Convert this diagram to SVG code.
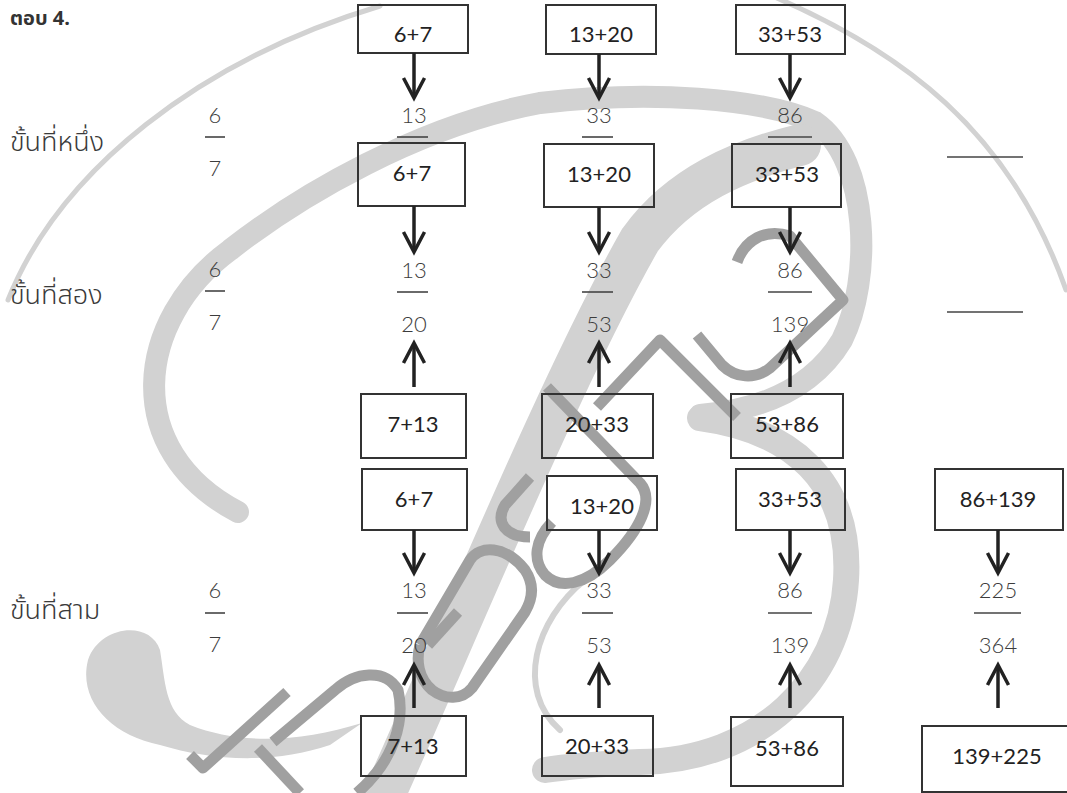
<svg xmlns="http://www.w3.org/2000/svg" width="1067" height="793" viewBox="0 0 1067 793">
<style>
.box{fill:none;stroke:#333;stroke-width:2}
.bt{font-family:Lato,"Open Sans","Liberation Sans",sans-serif;font-size:22px;fill:#222;text-anchor:middle}
.num{font-family:Lato,"Open Sans","Liberation Sans",sans-serif;font-weight:300;font-size:22px;fill:#3c3c3c;text-anchor:middle}
.bar{stroke:#444;stroke-width:1.6}
.th{font-family:"Noto Sans Thai","Noto Sans Thai UI","Noto Sans","DejaVu Sans",sans-serif;font-weight:300;font-size:27px;fill:#3a3a3a}
.arr{stroke:#222;stroke-width:3.5;fill:none;marker-end:url(#chev)}
.wl{fill:none;stroke:#d2d2d2;stroke-linecap:round}
.wd{fill:none;stroke:#a0a0a0;stroke-width:11;stroke-linejoin:round}
</style>
<defs>
<marker id="chev" markerUnits="userSpaceOnUse" viewBox="-24 -14 28 28" refX="0" refY="0" markerWidth="28" markerHeight="28" orient="auto" overflow="visible">
<path d="M-20,-10.5 L0,0 L-20,10.5" fill="none" stroke="#222" stroke-width="3.5"/>
</marker>
</defs>
<g id="watermark">
<path class="wl" stroke-width="5" d="M8 300 C60 170 200 60 380 6"/>
<path class="wl" stroke-width="5" d="M770 -5 C900 50 1010 130 1066 290"/>
<path class="wl" stroke-width="22" d="M238 512 C120 450 135 320 230 250 C300 195 420 125 540 103 C650 90 760 98 815 122 C870 160 872 280 842 340 C812 390 760 410 700 415"/>
<path class="wl" stroke-width="26" d="M700 418 C790 430 852 480 846 580 C840 680 760 760 640 762 C600 764 570 766 545 770"/>
<path class="wl" stroke-width="42" stroke-linecap="butt" d="M382 800 C450 650 560 380 640 240 C680 185 740 160 800 145"/>
<path class="wl" stroke-width="6" d="M585 580 C535 620 515 690 560 730"/>
<path fill="#d2d2d2" d="M160 650 C150 620 100 625 88 660 C78 700 110 735 160 745 C210 760 270 765 330 745 L362 723 C300 742 240 745 190 725 C165 712 165 680 160 650 Z"/>
<path class="wd" d="M547 387 L640 483 C655 500 640 530 610 560 C585 585 560 590 545 575 C532 560 535 540 552 522"/>
<path class="wd" d="M530 477 L505 505 C495 522 505 537 530 537"/>
<path class="wd" d="M420 645 L470 560 C480 545 505 545 525 570 C535 585 532 600 525 612 L472 688 C462 700 445 700 432 690 C418 678 416 660 420 645"/>
<path class="wd" d="M458 612 L428 645"/>
<path class="wd" d="M273 742 L335 690 C355 672 385 668 398 690 C405 720 395 760 357 793"/>
<path class="wd" d="M190 755 L203 768 L287 692"/>
<path class="wd" d="M258 748 L300 793"/>
<path class="wd" d="M737 262 C745 240 765 228 790 236 L843 300 L770 368 C755 380 735 378 722 365 L697 335"/>
<path class="wd" d="M597 407 L660 340 L737 417"/>
</g>
<g id="title"><text x="10" y="25" font-family="'Noto Sans Thai','Noto Sans','DejaVu Sans',sans-serif" font-weight="bold" font-size="20" fill="#333">ตอบ 4.</text></g>
<g id="labels">
<text class="th" x="10" y="151">ขั้นที่หนึ่ง</text>
<text class="th" x="10" y="304">ขั้นที่สอง</text>
<text class="th" x="10" y="619">ขั้นที่สาม</text>
</g>
<g id="left-fractions">
<text class="num" x="215" y="123">6</text><line class="bar" x1="205" y1="137" x2="225" y2="137"/><text class="num" x="215" y="176">7</text>
<text class="num" x="215" y="277">6</text><line class="bar" x1="205" y1="291" x2="225" y2="291"/><text class="num" x="215" y="330">7</text>
<text class="num" x="215" y="598">6</text><line class="bar" x1="205" y1="613" x2="225" y2="613"/><text class="num" x="215" y="652">7</text>
</g>
<g id="right-blanks">
<line class="bar" x1="947" y1="157" x2="1023" y2="157"/>
<line class="bar" x1="947" y1="312" x2="1023" y2="312"/>
</g>
<g id="step1-top">
<g id="n1a"><rect class="box" x="358" y="5" width="110" height="48"/><text class="bt" x="413" y="42">6+7</text></g>
<g id="n1b"><rect class="box" x="546" y="5" width="110" height="49"/><text class="bt" x="601" y="42">13+20</text></g>
<g id="n1c"><rect class="box" x="736" y="5" width="109" height="49"/><text class="bt" x="790" y="42">33+53</text></g>
</g>
<g id="step1-values">
<text class="num" x="414" y="123">13</text><line class="bar" x1="397" y1="137" x2="428" y2="137"/>
<text class="num" x="599" y="123">33</text><line class="bar" x1="582" y1="137" x2="613" y2="137"/>
<text class="num" x="790" y="123">86</text><line class="bar" x1="768" y1="137" x2="812" y2="137"/>
</g>
<g id="step1-bottom">
<g id="n2a"><rect class="box" x="358" y="143" width="107" height="63"/><text class="bt" x="412" y="181">6+7</text></g>
<g id="n2b"><rect class="box" x="544" y="144" width="110" height="63"/><text class="bt" x="599" y="182">13+20</text></g>
<g id="n2c"><rect class="box" x="732" y="144" width="109" height="63"/><text class="bt" x="787" y="182">33+53</text></g>
</g>
<g id="step2-values">
<text class="num" x="414" y="278">13</text><line class="bar" x1="397" y1="292" x2="428" y2="292"/><text class="num" x="414" y="332">20</text>
<text class="num" x="599" y="278">33</text><line class="bar" x1="582" y1="292" x2="613" y2="292"/><text class="num" x="599" y="332">53</text>
<text class="num" x="790" y="278">86</text><line class="bar" x1="768" y1="292" x2="812" y2="292"/><text class="num" x="790" y="332">139</text>
</g>
<g id="step2-bottom">
<g id="n3a"><rect class="box" x="361" y="394" width="105" height="64"/><text class="bt" x="413" y="432">7+13</text></g>
<g id="n3b"><rect class="box" x="542" y="394" width="111" height="64"/><text class="bt" x="597" y="432">20+33</text></g>
<g id="n3c"><rect class="box" x="731" y="394" width="112" height="64"/><text class="bt" x="787" y="432">53+86</text></g>
</g>
<g id="step3-top">
<g id="n4a"><rect class="box" x="362" y="469" width="105" height="61"/><text class="bt" x="414" y="507">6+7</text></g>
<g id="n4b"><rect class="box" x="547" y="476" width="110" height="54"/><text class="bt" x="602" y="514">13+20</text></g>
<g id="n4c"><rect class="box" x="736" y="469" width="109" height="61"/><text class="bt" x="790" y="507">33+53</text></g>
<g id="n4d"><rect class="box" x="935" y="469" width="128" height="61"/><text class="bt" x="998" y="507">86+139</text></g>
</g>
<g id="step3-values">
<text class="num" x="414" y="598">13</text><line class="bar" x1="397" y1="613" x2="428" y2="613"/><text class="num" x="414" y="653">20</text>
<text class="num" x="599" y="598">33</text><line class="bar" x1="582" y1="613" x2="613" y2="613"/><text class="num" x="599" y="653">53</text>
<text class="num" x="790" y="598">86</text><line class="bar" x1="768" y1="613" x2="812" y2="613"/><text class="num" x="790" y="653">139</text>
<text class="num" x="998" y="598">225</text><line class="bar" x1="974" y1="613" x2="1021" y2="613"/><text class="num" x="998" y="653">364</text>
</g>
<g id="step3-bottom">
<g id="n5a"><rect class="box" x="361" y="716" width="105" height="60"/><text class="bt" x="413" y="754">7+13</text></g>
<g id="n5b"><rect class="box" x="542" y="716" width="111" height="60"/><text class="bt" x="597" y="754">20+33</text></g>
<g id="n5c"><rect class="box" x="731" y="717" width="112" height="69"/><text class="bt" x="787" y="756">53+86</text></g>
<g id="n5d"><rect class="box" x="922" y="726" width="150" height="66"/><text class="bt" x="997" y="764">139+225</text></g>
</g>
<g id="connectors">
<path class="arr" d="M414 53 V98"/><path class="arr" d="M599 54 V98"/><path class="arr" d="M790 54 V98"/>
<path class="arr" d="M414 206 V252"/><path class="arr" d="M599 207 V252"/><path class="arr" d="M790 207 V252"/>
<path class="arr" d="M414 387 V343"/><path class="arr" d="M599 387 V343"/><path class="arr" d="M790 387 V343"/>
<path class="arr" d="M414 530 V573"/><path class="arr" d="M599 530 V573"/><path class="arr" d="M790 530 V573"/><path class="arr" d="M998 530 V573"/>
<path class="arr" d="M414 708 V665"/><path class="arr" d="M599 708 V665"/><path class="arr" d="M790 708 V665"/><path class="arr" d="M998 708 V665"/>
</g>
</svg>
